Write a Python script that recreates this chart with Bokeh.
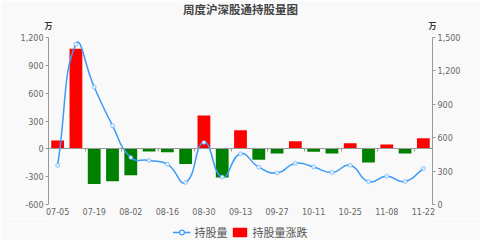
from bokeh.plotting import figure
from bokeh.layouts import column
from bokeh.models import (Range1d, LinearAxis, FixedTicker, NumeralTickFormatter,
                          Legend, LegendItem, ColumnDataSource)
from bokeh.embed import file_html
from bokeh.resources import INLINE

dates = ["07-05", "07-12", "07-19", "07-26", "08-02", "08-09", "08-16", "08-23",
         "08-30", "09-06", "09-13", "09-20", "09-27", "10-04", "10-11", "10-18",
         "10-25", "11-01", "11-08", "11-15", "11-22"]
changes = [90, 1080, -378, -350, -285, -28, -38, -164, 358, -310, 200, -118,
           -50, 83, -32, -50, 61, -146, 47, -50, 115]
holdings = [351, 1440, 1055, 708, 423, 396, 362, 198, 558, 247, 455, 335,
            284, 370, 337, 288, 352, 206, 254, 207, 323]
left_ticks = [-600, -300, 0, 300, 600, 900, 1200]
right_ticks = [0, 300, 600, 900, 1200, 1500]

W = 480
FL, FR, FT, FB = 48, 48, 36, 14
FH = 168
H1 = FT + FH + FB
H2 = 240 - H1
fw, fh = W - FL - FR, FH
n = len(dates)
bg = "#f9f9f9"

p = figure(width=W, height=H1, output_backend="svg", toolbar_location=None,
           x_range=Range1d(0, n), y_range=Range1d(-600, 1200),
           min_border_left=FL, min_border_right=FR, min_border_top=FT,
           min_border_bottom=FB, background_fill_color=bg,
           border_fill_color=bg, outline_line_color=None,
           title="周度沪深股通持股量图")
p.title.align = "center"
p.title.text_font = "DejaVu Sans, Noto Sans CJK SC"
p.title.text_font_size = "11.5px"
p.title.text_font_style = "bold"
p.title.text_color = "#444444"
p.title.standoff = 0
p.extra_y_ranges = {"right": Range1d(0, 1500)}
p.xgrid.visible = False
p.ygrid.visible = False

tick_font = "DejaVu Sans"
axis_col = "#999999"
lab_col = "#666666"

# left axis
ya = p.yaxis[0]
ya.ticker = FixedTicker(ticks=left_ticks)
ya.formatter = NumeralTickFormatter(format="0,0")
ya.axis_line_color = axis_col
ya.major_tick_line_color = axis_col
ya.major_tick_in = 0
ya.major_tick_out = 3
ya.minor_tick_line_color = None
ya.major_label_standoff = 2
ya.major_label_text_font = tick_font
ya.major_label_text_font_size = "8px"
ya.major_label_text_color = lab_col

# right axis
ra = LinearAxis(y_range_name="right", ticker=FixedTicker(ticks=right_ticks),
                formatter=NumeralTickFormatter(format="0,0"))
ra.axis_line_color = axis_col
ra.major_tick_line_color = axis_col
ra.major_tick_in = 0
ra.major_tick_out = 3
ra.minor_tick_line_color = None
ra.major_label_standoff = 2
ra.major_label_text_font = tick_font
ra.major_label_text_font_size = "8px"
ra.major_label_text_color = lab_col
p.add_layout(ra, "right")

# bottom labels axis
xa = p.xaxis[0]
label_pos = [i + 0.5 for i in range(0, n, 2)]
xa.ticker = FixedTicker(ticks=label_pos)
xa.major_label_overrides = {i + 0.5: dates[i] for i in range(0, n, 2)}
xa.axis_line_color = None
xa.major_tick_line_color = None
xa.major_tick_in = 0
xa.major_tick_out = 0
xa.minor_tick_line_color = None
xa.major_label_standoff = 3
xa.major_label_text_font = tick_font
xa.major_label_text_font_size = "8px"
xa.major_label_text_color = lab_col

# zero line axis with ticks
za = LinearAxis(fixed_location=0, ticker=FixedTicker(ticks=list(range(0, n + 1, 2))))
za.axis_line_color = axis_col
za.major_tick_line_color = axis_col
za.major_tick_in = 3
za.major_tick_out = 0
za.minor_tick_line_color = None
za.major_label_standoff = 0
za.major_label_text_font_size = "0px"
za.major_label_overrides = {t: "" for t in range(0, n + 1, 2)}
p.add_layout(za, "above")

# unit labels ("万") over both value axes
ua = LinearAxis(ticker=FixedTicker(ticks=[0, n]))
ua.major_label_overrides = {0: "万", n: "万"}
ua.axis_line_color = None
ua.major_tick_line_color = None
ua.major_tick_in = 0
ua.major_tick_out = 0
ua.minor_tick_line_color = None
ua.major_label_standoff = 7
ua.major_label_text_font = "Noto Sans CJK SC"
ua.major_label_text_font_size = "8px"
ua.major_label_text_font_style = "bold"
ua.major_label_text_color = "#333333"
p.add_layout(ua, "above")

# bars
xs = [i + 0.5 for i in range(n)]
colors = ["#ff0000" if c >= 0 else "#008000" for c in changes]
bsrc = ColumnDataSource(dict(x=xs, top=changes, color=colors))
bars = p.vbar(x="x", top="top", bottom=0, width=0.7, source=bsrc,
              fill_color="color", line_color=None)

# smooth line (echarts-like bezier)
sx = fw / n
sy = fh / 1500.0
smooth = 0.5
cin, cout = [], []
for i in range(n):
    px, py = xs[i], holdings[i]
    qx, qy = (xs[i - 1], holdings[i - 1]) if i > 0 else (px, py)
    rx, ry = (xs[i + 1], holdings[i + 1]) if i < n - 1 else (px, py)
    vx, vy = rx - qx, ry - qy
    dp = (((px - qx) * sx) ** 2 + ((py - qy) * sy) ** 2) ** 0.5
    dn = (((rx - px) * sx) ** 2 + ((ry - py) * sy) ** 2) ** 0.5
    rn = dn / (dn + dp) if dn + dp > 0 else 0.5
    cout.append((px + vx * smooth * rn, py + vy * smooth * rn))
    cin.append((px - vx * smooth * (1 - rn), py - vy * smooth * (1 - rn)))
lsrc = ColumnDataSource(dict(
    x0=xs[:-1], y0=holdings[:-1], x1=xs[1:], y1=holdings[1:],
    cx0=[c[0] for c in cout[:-1]], cy0=[c[1] for c in cout[:-1]],
    cx1=[c[0] for c in cin[1:]], cy1=[c[1] for c in cin[1:]]))
line_col = "#3d9bf5"
curve = p.bezier(x0="x0", y0="y0", x1="x1", y1="y1", cx0="cx0", cy0="cy0",
                 cx1="cx1", cy1="cy1", source=lsrc, line_color=line_col,
                 line_width=1.5, y_range_name="right")
pts = p.scatter(xs, holdings, y_range_name="right", size=4, marker="circle",
                fill_color="#ddeeff", line_color=line_col, line_width=0.8,
                line_alpha=0.6)

# legend strip (its glyphs sit outside the strip's visible range)
lf = figure(width=W, height=H2, output_backend="svg", toolbar_location=None,
            x_range=Range1d(0, 1), y_range=Range1d(0, 1), min_border=0,
            x_axis_location=None, y_axis_location=None,
            background_fill_color=bg, border_fill_color=bg,
            outline_line_color=None)
lf.xgrid.visible = False
lf.ygrid.visible = False
leg_line = lf.line(x=[-3, -2], y=[-3, -2], line_color=line_col, line_width=1.5)
leg_pt = lf.scatter(x=[-3], y=[-3], size=8, marker="circle", fill_color="white",
                    line_color=line_col, line_width=1.2)
leg_bar = lf.vbar(x=[-3], top=[-3], width=0.5, fill_color="#ff0000",
                  line_color=None)
legend = Legend(items=[LegendItem(label="持股量", renderers=[leg_line, leg_pt]),
                       LegendItem(label="持股量涨跌", renderers=[leg_bar])],
                location="bottom_center", orientation="horizontal",
                background_fill_alpha=0, border_line_color=None, padding=0,
                margin=0, spacing=3, label_standoff=4, glyph_width=18,
                glyph_height=12, label_height=12, inactive_fill_alpha=0,
                label_text_font="Noto Sans CJK SC",
                label_text_font_size="11px", label_text_color="#555555")
lf.add_layout(legend)

layout = column(p, lf, spacing=0)
open("out.html", "w").write(file_html(layout, INLINE))
